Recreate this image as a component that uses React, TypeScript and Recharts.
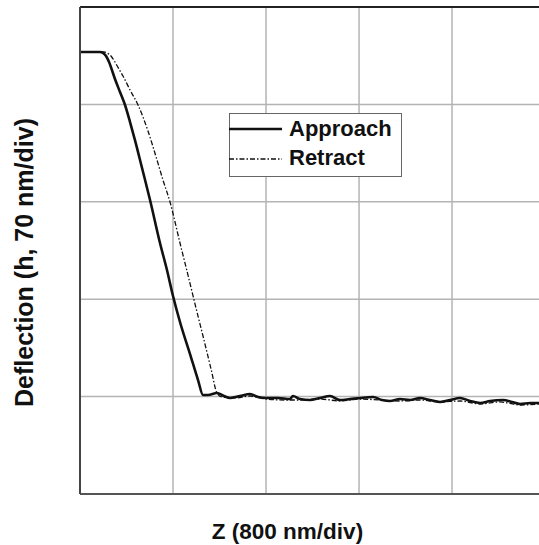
import React from 'react';
import { LineChart, Line, XAxis, YAxis, ReferenceLine, Legend } from 'recharts';

// Z in divisions (800 nm/div), deflection in divisions (70 nm/div)
const approachZ = [0, 0.215, 0.247, 0.28, 0.312, 0.376, 0.43, 0.484, 0.538, 0.591, 0.667, 0.753, 0.86, 0.935, 1.0, 1.075, 1.183, 1.269, 1.323,
  1.376, 1.473, 1.548, 1.613, 1.72, 1.828, 1.914, 2.0, 2.129, 2.258, 2.29, 2.366, 2.473, 2.581, 2.688, 2.796, 2.903, 3.011, 3.151, 3.247, 3.333,
  3.441, 3.548, 3.656, 3.763, 3.871, 3.978, 4.086, 4.194, 4.301, 4.409, 4.548, 4.645, 4.731, 4.839, 4.935];
const approachD = [4.538, 4.538, 4.528, 4.497, 4.435, 4.261, 4.127, 3.994, 3.819, 3.634, 3.347, 3.019, 2.577, 2.3, 2.033, 1.766, 1.437, 1.17, 1.016,
  1.016, 1.037, 1.006, 0.986, 1.006, 1.027, 0.996, 0.986, 0.986, 0.975, 1.006, 0.975, 0.965, 0.986, 1.006, 0.965, 0.975, 0.986, 0.996, 0.965, 0.955,
  0.975, 0.965, 0.986, 0.965, 0.945, 0.965, 0.986, 0.955, 0.934, 0.955, 0.965, 0.945, 0.924, 0.934, 0.934];

const retractZ = [0, 0.258, 0.29, 0.333, 0.376, 0.419, 0.462, 0.538, 0.624, 0.731, 0.828, 0.892, 0.968, 1.075, 1.161, 1.247, 1.333, 1.409, 1.473,
  1.527, 1.667, 1.828, 2.0, 2.204, 2.366, 2.581, 2.796, 3.011, 3.226, 3.441, 3.656, 3.871, 4.086, 4.301, 4.516, 4.731, 4.935];
const retractD = [4.538, 4.538, 4.528, 4.497, 4.435, 4.363, 4.292, 4.148, 3.994, 3.727, 3.429, 3.224, 2.998, 2.577, 2.248, 1.91, 1.581, 1.283, 1.037,
  0.996, 0.986, 1.006, 0.975, 0.965, 0.965, 0.975, 0.955, 0.975, 0.965, 0.955, 0.965, 0.945, 0.955, 0.924, 0.945, 0.914, 0.924];

const xTicks = [0, 1, 2, 3, 4];
const yTicks = [0, 1, 2, 3, 4, 5];
const seriesNames = ['Approach', 'Retract'];
const xLabel = 'Z (800 nm/div)';
const yLabel = 'Deflection (h, 70 nm/div)';

const approachData = approachZ.map((z, i) => ({ z, d: approachD[i] }));
const retractData = retractZ.map((z, i) => ({ z, d: retractD[i] }));

const FONT = '"Liberation Sans", Arial, Helvetica, sans-serif';
const GRID = '#b4b4b4';

const LegendBox = () => (
  <div style={{ width: 173, height: 64, border: '1.5px solid #666', boxSizing: 'border-box', background: '#fff', position: 'relative', fontFamily: FONT }}>
    <svg width={60} height={64} style={{ position: 'absolute', left: -1, top: -1 }}>
      <line x1={0} x2={53} y1={16} y2={16} stroke="#111" strokeWidth={2.5} />
      <line x1={0} x2={53} y1={46} y2={46} stroke="#111" strokeWidth={1.3} strokeDasharray="5 2 1.5 2" />
    </svg>
    <div style={{ position: 'absolute', left: 59, top: 2, fontSize: 22, fontWeight: 'bold', color: '#111', lineHeight: '25px' }}>{seriesNames[0]}</div>
    <div style={{ position: 'absolute', left: 59, top: 31, fontSize: 22, fontWeight: 'bold', color: '#111', lineHeight: '25px' }}>{seriesNames[1]}</div>
  </div>
);

const YLab = (props: any) => {
  const vb = props.viewBox;
  const cx = vb.x + 24;
  const cy = vb.y + vb.height / 2 + 12;
  return (
    <text x={cx} y={cy} transform={`rotate(-90, ${cx}, ${cy})`} textAnchor="middle" dominantBaseline="central"
      fontFamily={FONT} fontWeight="bold" fontSize={25} fill="#111">{yLabel}</text>
  );
};

const XLab = (props: any) => {
  const vb = props.viewBox;
  return (
    <text x={vb.x + vb.width / 2 - 22} y={vb.y + 45} textAnchor="middle"
      fontFamily={FONT} fontWeight="bold" fontSize={22.5} fill="#111">{xLabel}</text>
  );
};

export default function App() {
  return (
    <div style={{ position: 'absolute', left: 0, top: 0, width: 539, height: 545, background: '#fff' }}>
      <LineChart width={539} height={545} margin={{ top: 7, right: 0, bottom: 50, left: 0 }}>
        <XAxis type="number" dataKey="z" domain={[0, 4.935]} ticks={xTicks} tick={false} tickLine={false}
          height={1} axisLine={{ stroke: '#555', strokeWidth: 2 }} allowDataOverflow label={<XLab />} />
        <YAxis type="number" dataKey="d" domain={[0, 5]} ticks={yTicks} tick={false} tickLine={false}
          width={80} axisLine={{ stroke: '#444', strokeWidth: 2 }} label={<YLab />} />
        {xTicks.slice(1).map((t) => (
          <ReferenceLine key={`vx${t}`} x={t} stroke={GRID} strokeWidth={1.5} />
        ))}
        {yTicks.slice(1, yTicks.length - 1).map((t) => (
          <ReferenceLine key={`hy${t}`} y={t} stroke={GRID} strokeWidth={1.5} />
        ))}
        <ReferenceLine y={5} stroke="#222" strokeWidth={2} ifOverflow="visible" />
        <Legend layout="vertical" align="center" verticalAlign="middle" content={<LegendBox />}
          wrapperStyle={{ position: 'absolute', left: 229, top: 113, width: 173, height: 64 }} />
        <Line data={retractData} dataKey="d" name={seriesNames[1]} type="monotone" stroke="#111" strokeWidth={1.3}
          strokeDasharray="5 2 1.5 2" dot={false} isAnimationActive={false} />
        <Line data={approachData} dataKey="d" name={seriesNames[0]} type="monotone" stroke="#111" strokeWidth={2.6}
          dot={false} isAnimationActive={false} />
      </LineChart>
    </div>
  );
}
